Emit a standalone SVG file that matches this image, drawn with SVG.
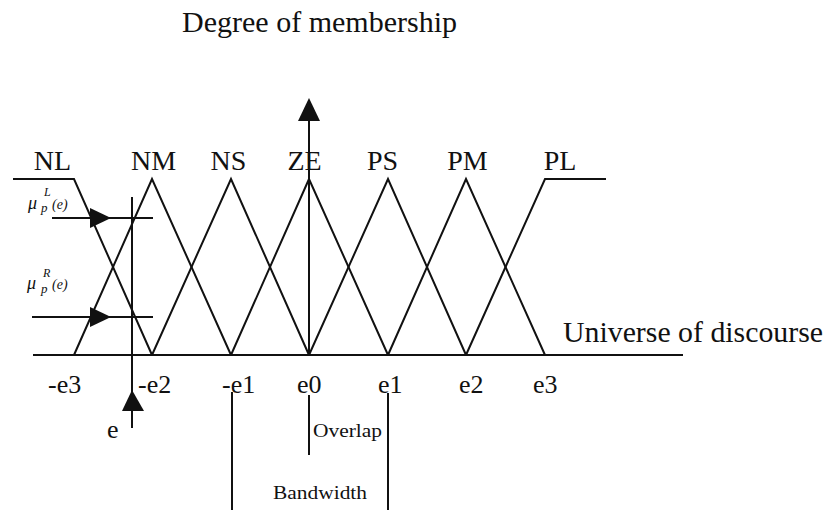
<svg xmlns="http://www.w3.org/2000/svg" width="826" height="511" viewBox="0 0 826 511">
<style>
.ln{stroke:#111;stroke-width:2;fill:none}
.t{fill:#111}
.lab{font-size:28px;text-anchor:middle}
.tick{font-size:26px}
.mu{font-style:italic}
.ah{fill:#111;stroke:none}
</style>
<rect width="826" height="511" fill="#fff"/>
<g font-family="'Liberation Serif', 'DejaVu Serif', 'Times New Roman', serif">
<g id="title"><text class="t" x="182" y="32" font-size="29" textLength="275" lengthAdjust="spacingAndGlyphs">Degree of membership</text></g>
<g id="sets">
<polyline class="ln" points="13,179 74,179 152,355"/>
<polyline class="ln" points="74,355 152,179 231,355"/>
<polyline class="ln" points="152,355 231,179 309,355"/>
<polyline class="ln" points="231,355 309,179 388,355"/>
<polyline class="ln" points="309,355 388,179 466,355"/>
<polyline class="ln" points="388,355 466,179 545,355"/>
<polyline class="ln" points="466,355 545,179 606,179"/>
</g>
<g id="set-labels" class="t lab">
<text x="52.5" y="170">NL</text>
<text x="153.5" y="170">NM</text>
<text x="228.5" y="170">NS</text>
<text x="304.5" y="170">ZE</text>
<text x="382.5" y="170">PS</text>
<text x="467.5" y="170">PM</text>
<text x="560" y="170">PL</text>
</g>
<g id="connectors">
<line class="ln" x1="33" y1="355" x2="683" y2="355"/>
<line class="ln" x1="309" y1="355" x2="309" y2="110"/>
<polygon class="ah" points="309,98 298,121 320,121"/>
<line class="ln" x1="132" y1="197" x2="132" y2="428"/>
<polygon class="ah" points="132,390 122,411 144,411"/>
<line class="ln" x1="52" y1="218" x2="153" y2="218"/>
<polygon class="ah" points="111,218 90,208 90,228"/>
<line class="ln" x1="32" y1="317" x2="153" y2="317"/>
<polygon class="ah" points="111,317 90,307 90,327"/>
<line class="ln" x1="232" y1="392" x2="232" y2="510"/>
<line class="ln" x1="388" y1="393" x2="388" y2="510"/>
<line class="ln" x1="309" y1="395" x2="309" y2="455"/>
</g>
<g id="universe"><text class="t" x="563" y="342" font-size="29" textLength="260" lengthAdjust="spacingAndGlyphs">Universe of discourse</text></g>
<g id="ticks" class="t tick">
<text x="48" y="393">-e3</text>
<text x="138" y="393">-e2</text>
<text x="222" y="393">-e1</text>
<text x="297" y="393">e0</text>
<text x="378" y="393">e1</text>
<text x="459" y="393">e2</text>
<text x="533" y="393">e3</text>
</g>
<g id="e-input"><text class="t" x="107" y="438" font-size="26">e</text></g>
<g id="mu-left" class="t mu">
<text x="28" y="209" font-size="18">μ</text>
<text x="44" y="196" font-size="12">L</text>
<text x="41" y="212" font-size="13">p</text>
<text x="52" y="209" font-size="14">(e)</text>
</g>
<g id="mu-right" class="t mu">
<text x="27" y="289" font-size="18">μ</text>
<text x="43" y="277" font-size="12">R</text>
<text x="41" y="293" font-size="13">p</text>
<text x="52" y="289" font-size="14">(e)</text>
</g>
<g id="overlap"><text class="t" x="313" y="437" font-size="18" textLength="69" lengthAdjust="spacingAndGlyphs">Overlap</text></g>
<g id="bandwidth"><text class="t" x="273" y="499" font-size="19" textLength="94" lengthAdjust="spacingAndGlyphs">Bandwidth</text></g>
</g>
</svg>
